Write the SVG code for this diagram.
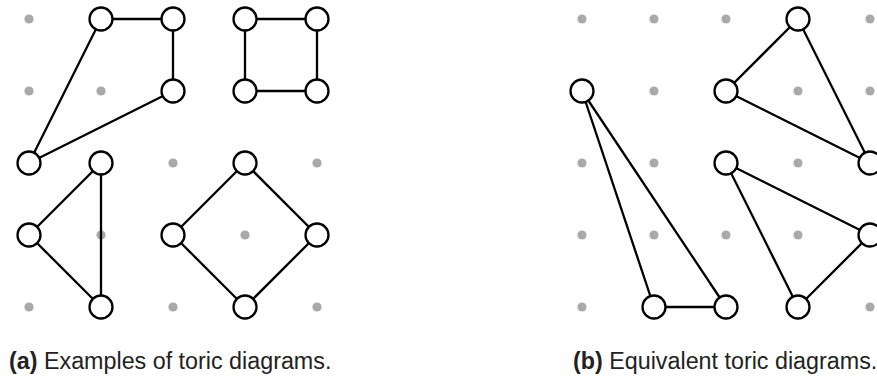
<svg xmlns="http://www.w3.org/2000/svg" width="877" height="381" viewBox="0 0 877 381">
  <style>
    .dot { fill: #aaaaaa; }
    .node { fill: #ffffff; stroke: #000000; stroke-width: 2.3; }
    .edge { stroke: #000000; stroke-width: 2.3; fill: none; }
    .cap { font-family: "Liberation Sans", Arial, sans-serif; font-size: 23.3px; fill: #222222; }
    .cap .lbl { font-weight: bold; }
  </style>
  <defs>
    <circle id="d" r="4.6" class="dot"/>
  </defs>
  <rect width="877" height="381" fill="#ffffff"/>

  <!-- (a) lattice points -->
  <g id="grid-a">
    <use href="#d" x="29" y="19"/>
    <use href="#d" x="29" y="91"/>
    <use href="#d" x="101" y="91"/>
    <use href="#d" x="173" y="163"/>
    <use href="#d" x="317" y="163"/>
    <use href="#d" x="101" y="235"/>
    <use href="#d" x="245" y="235"/>
    <use href="#d" x="29" y="307"/>
    <use href="#d" x="173" y="307"/>
    <use href="#d" x="317" y="307"/>
  </g>

  <!-- (b) lattice points -->
  <g id="grid-b">
    <use href="#d" x="582" y="19"/>
    <use href="#d" x="654" y="19"/>
    <use href="#d" x="726" y="19"/>
    <use href="#d" x="870" y="19"/>
    <use href="#d" x="654" y="91"/>
    <use href="#d" x="798" y="91"/>
    <use href="#d" x="870" y="91"/>
    <use href="#d" x="582" y="163"/>
    <use href="#d" x="654" y="163"/>
    <use href="#d" x="798" y="163"/>
    <use href="#d" x="582" y="235"/>
    <use href="#d" x="654" y="235"/>
    <use href="#d" x="726" y="235"/>
    <use href="#d" x="798" y="235"/>
    <use href="#d" x="582" y="307"/>
    <use href="#d" x="870" y="307"/>
  </g>

  <!-- connectors -->
  <g id="edges" class="edge">
    <!-- (a) quadrilateral -->
    <line x1="101" y1="19" x2="173" y2="19"/>
    <line x1="173" y1="19" x2="173" y2="91"/>
    <line x1="173" y1="91" x2="29" y2="163"/>
    <line x1="29" y1="163" x2="101" y2="19"/>
    <!-- (a) square -->
    <line x1="245" y1="19" x2="317" y2="19"/>
    <line x1="317" y1="19" x2="317" y2="91"/>
    <line x1="317" y1="91" x2="245" y2="91"/>
    <line x1="245" y1="91" x2="245" y2="19"/>
    <!-- (a) triangle -->
    <line x1="101" y1="163" x2="29" y2="235"/>
    <line x1="29" y1="235" x2="101" y2="307"/>
    <line x1="101" y1="163" x2="101" y2="307"/>
    <!-- (a) diamond -->
    <line x1="245" y1="163" x2="173" y2="235"/>
    <line x1="173" y1="235" x2="245" y2="307"/>
    <line x1="245" y1="307" x2="317" y2="235"/>
    <line x1="317" y1="235" x2="245" y2="163"/>
    <!-- (b) upper triangle -->
    <line x1="798" y1="19" x2="726" y2="91"/>
    <line x1="726" y1="91" x2="870" y2="163"/>
    <line x1="798" y1="19" x2="870" y2="163"/>
    <!-- (b) long triangle -->
    <line x1="582" y1="91" x2="654" y2="307"/>
    <line x1="582" y1="91" x2="726" y2="307"/>
    <line x1="654" y1="307" x2="726" y2="307"/>
    <!-- (b) lower triangle -->
    <line x1="726" y1="163" x2="870" y2="235"/>
    <line x1="870" y1="235" x2="798" y2="307"/>
    <line x1="726" y1="163" x2="798" y2="307"/>
  </g>

  <!-- (a) nodes -->
  <g id="a-n1"><circle class="node" cx="101" cy="19" r="11.5"/></g>
  <g id="a-n2"><circle class="node" cx="173" cy="19" r="11.5"/></g>
  <g id="a-n3"><circle class="node" cx="173" cy="91" r="11.5"/></g>
  <g id="a-n4"><circle class="node" cx="29" cy="163" r="11.5"/></g>
  <g id="a-n5"><circle class="node" cx="245" cy="19" r="11.5"/></g>
  <g id="a-n6"><circle class="node" cx="317" cy="19" r="11.5"/></g>
  <g id="a-n7"><circle class="node" cx="317" cy="91" r="11.5"/></g>
  <g id="a-n8"><circle class="node" cx="245" cy="91" r="11.5"/></g>
  <g id="a-n9"><circle class="node" cx="101" cy="163" r="11.5"/></g>
  <g id="a-n10"><circle class="node" cx="29" cy="235" r="11.5"/></g>
  <g id="a-n11"><circle class="node" cx="101" cy="307" r="11.5"/></g>
  <g id="a-n12"><circle class="node" cx="245" cy="163" r="11.5"/></g>
  <g id="a-n13"><circle class="node" cx="173" cy="235" r="11.5"/></g>
  <g id="a-n14"><circle class="node" cx="317" cy="235" r="11.5"/></g>
  <g id="a-n15"><circle class="node" cx="245" cy="307" r="11.5"/></g>

  <!-- (b) nodes -->
  <g id="b-n1"><circle class="node" cx="798" cy="19" r="11.5"/></g>
  <g id="b-n2"><circle class="node" cx="726" cy="91" r="11.5"/></g>
  <g id="b-n3"><circle class="node" cx="870" cy="163" r="11.5"/></g>
  <g id="b-n4"><circle class="node" cx="582" cy="91" r="11.5"/></g>
  <g id="b-n5"><circle class="node" cx="654" cy="307" r="11.5"/></g>
  <g id="b-n6"><circle class="node" cx="726" cy="307" r="11.5"/></g>
  <g id="b-n7"><circle class="node" cx="726" cy="163" r="11.5"/></g>
  <g id="b-n8"><circle class="node" cx="870" cy="235" r="11.5"/></g>
  <g id="b-n9"><circle class="node" cx="798" cy="307" r="11.5"/></g>

  <!-- captions -->
  <text class="cap" x="9" y="369"><tspan class="lbl">(a)</tspan> Examples of toric diagrams.</text>
  <text class="cap" x="573" y="369"><tspan class="lbl">(b)</tspan> Equivalent toric diagrams.</text>
</svg>
